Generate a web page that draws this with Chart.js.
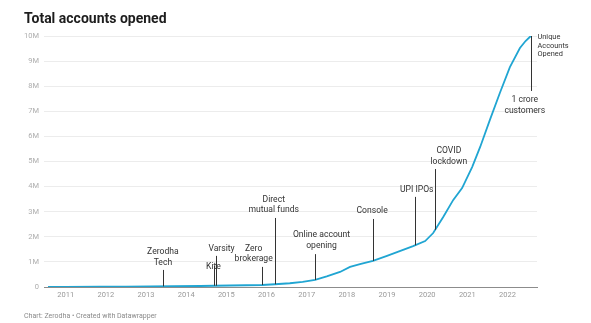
<!DOCTYPE html>
<html>
<head>
<meta charset="utf-8">
<script src="https://cdn.jsdelivr.net/npm/chart.js@4.4.1/dist/chart.umd.min.js"></script>
<style>
  html, body { margin: 0; padding: 0; background: #fff; }
  #wrap { position: relative; width: 591px; height: 323px; overflow: hidden; font-family: Roboto, sans-serif; }
  #title { position: absolute; left: 24px; top: 9px; margin: 0; font-size: 14px; font-weight: 700; color: #1d1d1d; line-height: 18px; white-space: nowrap; }
  #note { position: absolute; left: 24px; top: 311px; font-size: 7px; color: #8a8a8a; line-height: 10px; white-space: nowrap; }
  #chart { position: absolute; left: 0; top: 0; }
</style>
</head>
<body>
<div id="wrap">
  <canvas id="chart" width="591" height="323"></canvas>
  <h1 id="title">Total accounts opened</h1>
  <div id="note">Chart: Zerodha • Created with Datawrapper</div>
</div>
<script>
// Cumulative accounts opened (millions), by fractional year
const accountYears = [2010.56, 2011.0, 2011.85, 2012.5, 2013.1, 2013.7, 2014.35, 2014.7, 2015.09, 2015.5, 2015.89, 2016.21,
  2016.58, 2016.9, 2017.21, 2017.5, 2017.83, 2018.08, 2018.35, 2018.65, 2019.0, 2019.3, 2019.65, 2019.95,
  2020.15, 2020.4, 2020.65, 2020.87, 2021.12, 2021.32, 2021.56, 2021.81, 2022.06, 2022.31, 2022.45, 2022.58];
const accountMillions = [0, 0.003, 0.01, 0.015, 0.02, 0.03, 0.04, 0.05, 0.06, 0.07, 0.08, 0.11,
  0.15, 0.2, 0.28, 0.42, 0.6, 0.8, 0.92, 1.04, 1.24, 1.42, 1.63, 1.83,
  2.15, 2.79, 3.47, 3.94, 4.78, 5.58, 6.65, 7.73, 8.76, 9.52, 9.8, 10.0];

// Axis ticks
const tickYears = [2011, 2012, 2013, 2014, 2015, 2016, 2017, 2018, 2019, 2020, 2021, 2022];
const tickMillions = [0, 1, 2, 3, 4, 5, 6, 7, 8, 9, 10];

// Milestones
const eventNames = ['Zerodha\nTech', 'Kite', 'Varsity', 'Zero\nbrokerage', 'Direct\nmutual funds',
  'Online account\nopening', 'Console', 'UPI IPOs', 'COVID\nlockdown', '1 crore\ncustomers'];
const eventYears = [2013.42, 2014.69, 2014.75, 2015.89, 2016.21, 2017.21, 2018.65, 2019.70, 2020.20, 2022.58];

const seriesLabel = 'Unique\nAccounts\nOpened';

// Where each milestone's leader line stops and its text sits (axis units)
const eventLayout = [
  { lineTo: 0.68, textX: 2013.42, textY: 1.39 },
  { lineTo: 0.84, textX: 2014.68, textY: 0.82 },
  { lineTo: 1.24, textX: 2014.88, textY: 1.51 },
  { lineTo: 0.80, textX: 2015.68, textY: 1.54 },
  { lineTo: 2.75, textX: 2016.18, textY: 3.49 },
  { lineTo: 1.31, textX: 2017.37, textY: 2.06 },
  { lineTo: 2.71, textX: 2018.63, textY: 3.03 },
  { lineTo: 3.59, textX: 2019.74, textY: 3.86 },
  { lineTo: 4.70, textX: 2020.54, textY: 5.42 },
  { lineTo: 7.81, textX: 2022.43, textY: 7.45 }
];

const X_MIN = 2010.46, X_MAX = 2022.735;

function valueAt(t) {
  for (let i = 1; i < accountYears.length; i++) {
    if (t <= accountYears[i]) {
      const a = accountYears[i - 1], b = accountYears[i];
      const f = (t - a) / (b - a);
      return accountMillions[i - 1] + f * (accountMillions[i] - accountMillions[i - 1]);
    }
  }
  return accountMillions[accountMillions.length - 1];
}

const milestonePlugin = {
  id: 'milestones',
  afterDatasetsDraw(chart) {
    const { ctx, scales: { x, y } } = chart;
    ctx.save();
    ctx.strokeStyle = '#333';
    ctx.lineWidth = 1;
    eventYears.forEach((yr, i) => {
      const px = Math.round(x.getPixelForValue(yr)) + 0.5;
      const y0 = y.getPixelForValue(valueAt(yr));
      const y1 = y.getPixelForValue(eventLayout[i].lineTo);
      ctx.beginPath();
      ctx.moveTo(px, y0);
      ctx.lineTo(px, y1);
      ctx.stroke();
    });
    ctx.fillStyle = '#333';
    ctx.font = '8.6px Roboto';
    ctx.textAlign = 'center';
    ctx.textBaseline = 'middle';
    eventNames.forEach((name, i) => {
      const L = eventLayout[i];
      const tx = x.getPixelForValue(L.textX);
      const ty = y.getPixelForValue(L.textY);
      name.split('\n').forEach((line, k) => ctx.fillText(line, tx, ty + k * 10.8));
    });
    // series end label
    ctx.font = '7.4px Roboto';
    ctx.textAlign = 'left';
    const lx = chart.chartArea.right + 0.5;
    const ly = y.getPixelForValue(accountMillions[accountMillions.length - 1]) + 1.3;
    seriesLabel.split('\n').forEach((line, k) => ctx.fillText(line, lx, ly + k * 8.5));
    ctx.restore();
  }
};

new Chart(document.getElementById('chart'), {
  type: 'line',
  data: {
    datasets: [{
      data: accountYears.map((t, i) => ({ x: t, y: accountMillions[i] })),
      borderColor: '#20a5d2',
      borderWidth: 1.8,
      pointRadius: 0,
      tension: 0,
      fill: false
    }]
  },
  options: {
    responsive: false,
    animation: false,
    devicePixelRatio: 1,
    layout: { padding: { top: 36, right: 54, left: 0, bottom: 0 } },
    plugins: { legend: { display: false }, tooltip: { enabled: false }, title: { display: false } },
    scales: {
      x: {
        type: 'linear',
        min: X_MIN,
        max: X_MAX,
        afterFit(s) { s.height = 36; },
        afterBuildTicks(s) { s.ticks = tickYears.map(v => ({ value: v })); },
        ticks: {
          callback: v => String(v),
          color: '#999',
          font: { family: 'Roboto', size: 7.5 },
          padding: 4,
          maxRotation: 0,
          autoSkip: false
        },
        grid: { display: false, drawTicks: false },
        border: { display: true, color: '#8c8c8c', width: 1 }
      },
      y: {
        min: 0,
        max: 10,
        afterFit(s) { s.width = 44; },
        afterBuildTicks(s) { s.ticks = tickMillions.map(v => ({ value: v })); },
        ticks: {
          callback: v => (v === 0 ? '0' : v + 'M'),
          color: '#adadad',
          font: { family: 'Roboto', size: 7.5 },
          padding: 5
        },
        grid: {
          color: c => (c.tick && c.tick.value === 0 ? 'rgba(0,0,0,0)' : '#ececec'),
          drawTicks: false
        },
        border: { display: false }
      }
    }
  },
  plugins: [milestonePlugin]
});
</script>
</body>
</html>
